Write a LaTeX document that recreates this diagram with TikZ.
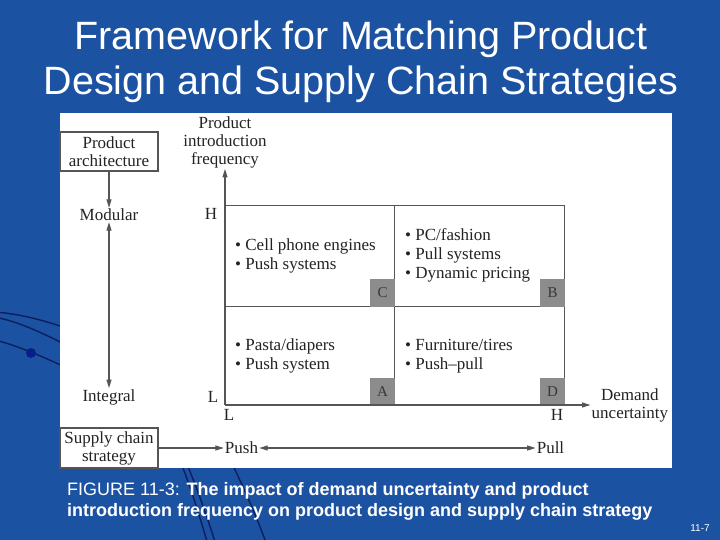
\documentclass[tikz,border=0pt]{standalone}
\usepackage{fontspec}
\setmainfont{Liberation Serif}
\setsansfont{Liberation Sans}
\usetikzlibrary{arrows.meta}
\definecolor{slideblue}{RGB}{28,82,162}
\definecolor{navy}{RGB}{12,30,95}
\definecolor{dotblue}{RGB}{8,30,140}
\definecolor{lineg}{RGB}{85,85,85}
\definecolor{boxg}{RGB}{140,140,140}
\definecolor{lettg}{RGB}{55,55,55}
\definecolor{textg}{RGB}{35,35,35}
\begin{document}
\begin{tikzpicture}[x=1pt,y=-1pt,
  lbl/.style={font=\fontsize{17}{18}\selectfont, text=textg, inner sep=1pt, align=center},
  framebox/.style={lbl, draw=lineg, line width=1.2pt, minimum width=98pt, inner sep=0pt},
  conn/.style={draw=lineg, line width=1.3pt, -{Triangle[length=8.5pt,width=5pt]}},
  dconn/.style={draw=lineg, line width=1.3pt, {Triangle[length=8.5pt,width=5pt]}-{Triangle[length=8.5pt,width=5pt]}},
  cell/.style={draw=lineg, line width=1.2pt, inner sep=0pt, anchor=north west},
  tag/.style={fill=boxg, text=lettg, minimum width=25pt, minimum height=28pt, inner sep=0pt, anchor=south east, font=\fontsize{15}{15}\selectfont},
  items/.style={font=\fontsize{17}{19}\selectfont, text=textg, inner sep=0pt, anchor=west, align=left},
  deco/.style={draw=navy, line width=1.4pt}
]
\useasboundingbox (0,0) rectangle (720,540);
\fill[slideblue] (0,0) rectangle (720,540);
% decorative background curves
\draw[deco] (-5,312) .. controls (20,314) and (45,320) .. (80,333);
\draw[deco] (-5,317) .. controls (20,322) and (45,334) .. (80,352);
\draw[deco] (-5,340) .. controls (15,345) and (40,355) .. (80,374);
\fill[dotblue] (31,353) circle (5);
\draw[deco] (178,455) .. controls (188,480) and (198,510) .. (208,545);
\draw[deco] (183,455) .. controls (194,480) and (205,510) .. (216,545);
\draw[deco] (228,455) .. controls (240,480) and (254,510) .. (267,545);
% white panel
\fill[white] (60,113) rectangle (672,468);
% title
\node[font=\sffamily\fontsize{39.5}{45}\selectfont, text=white, align=center, inner sep=0pt] (title) at (361,62) {Framework for Matching Product\\Design and Supply Chain Strategies};
% left column
\node[framebox, minimum height=39pt] (pa) at (109,151.5) {Product\\architecture};
\node[lbl] (mod) at (109,215) {Modular};
\node[lbl] (int) at (109,397) {Integral};
\draw[conn] (pa.south) -- (mod.north);
\draw[dconn] (mod.south) -- (int.north);
\node[framebox, minimum height=40pt] (sc) at (109,448) {Supply chain\\strategy};
\node[lbl] (push) at (241.5,448) {Push};
\node[lbl] (pull) at (550.5,448) {Pull};
\draw[conn] (sc.east) -- (push.west);
\draw[dconn] (push.east) -- (pull.west);
% grid cells
\node[cell, minimum width=169pt, minimum height=101pt] (cellC) at (225,205) {};
\node[cell, minimum width=170pt, minimum height=101pt] (cellB) at (394,205) {};
\node[cell, minimum width=169pt, minimum height=99pt] (cellA) at (225,306) {};
\node[cell, minimum width=170pt, minimum height=99pt] (cellD) at (394,306) {};
\node[tag] (tagC) at (cellC.south east) {C};
\node[tag] (tagB) at (cellB.south east) {B};
\node[tag] (tagA) at (cellA.south east) {A};
\node[tag] (tagD) at (cellD.south east) {D};
\node[items] (tC) at (235,255.5) {• Cell phone engines\\• Push systems};
\node[items] (tB) at (405,255.5) {• PC/fashion\\• Pull systems\\• Dynamic pricing};
\node[items] (tA) at (235,355.5) {• Pasta/diapers\\• Push system};
\node[items] (tD) at (405,356) {• Furniture/tires\\• Push–pull};
% axes
\coordinate (O) at (225,405);
\node[lbl] (pif) at (225,142) {Product\\introduction\\frequency};
\node[lbl, anchor=west] (du) at (590.5,405) {Demand\\uncertainty};
\draw[conn] (O) -- (pif.south);
\draw[conn] (O) -- (du.west);
\node[lbl] (yH) at (211,214) {H};
\node[lbl] (yL) at (213,397) {L};
\node[lbl] (xL) at (229,415) {L};
\node[lbl] (xH) at (557,415) {H};
% caption
\node[font=\sffamily\fontsize{18}{21}\selectfont, text=white, anchor=west, align=left, inner sep=0pt] (cap) at (67,501) {FIGURE 11-3: \textbf{The impact of demand uncertainty and product}\\\textbf{introduction frequency on product design and supply chain strategy}};
\node[font=\sffamily\fontsize{10}{10}\selectfont, text=white, inner sep=0pt] (pg) at (700,528) {11-7};
\end{tikzpicture}
\end{document}
